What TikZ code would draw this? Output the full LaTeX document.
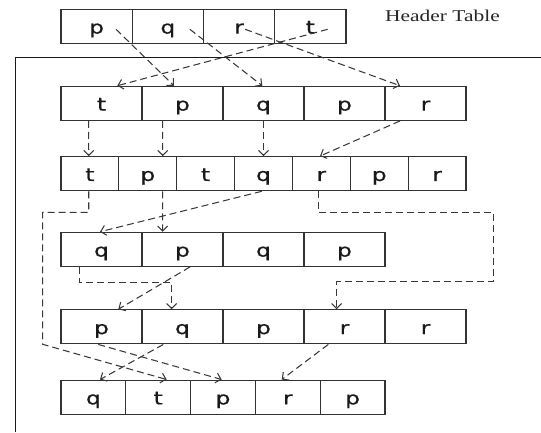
\documentclass[tikz,border=0pt]{standalone}
\usepackage{graphicx}
\usepackage{fontspec}
\setmainfont{Liberation Serif}
\newfontfamily\cellfont[FakeBold=0.5]{DejaVu Sans}
\usetikzlibrary{arrows.meta}
\newcommand{\sx}[1]{\scalebox{1.3}[1]{#1}}
\begin{document}
\begin{tikzpicture}[x=1pt,y=-1pt,
  cell/.style={draw=black!80, line width=1.2pt, minimum height=34pt, inner sep=0pt,
    text height=16.5pt, text depth=2pt, font=\cellfont\fontsize{18}{18}\selectfont, text=black!90},
  link/.style={draw=black!78, line width=1.05pt, dash pattern=on 7pt off 4pt,
    -{Straight Barb[length=5pt,width=10pt]}},
  framestyle/.style={draw=black!90, line width=1.3pt}]
\useasboundingbox (0,0) rectangle (541,432);
% frame
\draw[framestyle] (15.7,432) -- (15.7,57.7) -- (541,57.7);
% header table
\foreach \l [count=\i] in {p,q,r,t}
  \node[cell, minimum width=71.25pt] (h\i) at ({61+71.25*(\i-0.5)},26.3) {\sx{\l}};
\node[anchor=base west, inner sep=0pt, font=\fontsize{16.5}{16.5}\selectfont, text=black!85] (title) at (385,21.5) {\scalebox{1.3}[1]{Header Table}};
% rows
\foreach \l [count=\i] in {t,p,q,p,r}
  \node[cell, minimum width=81pt] (ra\i) at ({61+81*(\i-0.5)},103.35) {\sx{\l}};
\foreach \l [count=\i] in {t,p,t,q,r,p,r}
  \node[cell, minimum width=57.86pt] (rb\i) at ({61+57.86*(\i-0.5)},173.7) {\sx{\l}};
\foreach \l [count=\i] in {q,p,q,p}
  \node[cell, minimum width=81pt] (rc\i) at ({61+81*(\i-0.5)},249.35) {\sx{\l}};
\foreach \l [count=\i] in {p,q,p,r,r}
  \node[cell, minimum width=81pt] (rd\i) at ({61+81*(\i-0.5)},326.85) {\sx{\l}};
\foreach \l [count=\i] in {q,t,p,r,p}
  \node[cell, minimum width=64.8pt] (re\i) at ({61+64.8*(\i-0.5)},397.15) {\sx{\l}};
% header links
\draw[link] ([xshift=19.4pt,yshift=-3pt]h1.center) -- ([xshift=-8.5pt]ra2.north);
\draw[link] ([xshift=22pt,yshift=-3pt]h2.center) -- ([xshift=-1.2pt]ra3.north);
\draw[link] ([xshift=6pt,yshift=-3pt]h3.center) -- ([xshift=-25.5pt]ra5.north);
\draw[link] ([xshift=17.3pt,yshift=-3pt]h4.center) -- ([xshift=15.8pt]ra1.north);
% row 1 -> row 2
\draw[link] ([xshift=-12.8pt]ra1.south) -- ([xshift=-1.2pt]rb1.north);
\draw[link] ([xshift=-19.8pt]ra2.south) -- ([xshift=14.9pt]rb2.north);
\draw[link] (ra3.south) -- (ra3.south |- rb4.north);
\draw[link] ([xshift=-25.5pt]ra5.south) -- ([xshift=-1.4pt]rb5.north);
% row 2 -> row 3 / row 4 / row 5
\draw[link] ([xshift=-1.2pt]rb1.south) -- ++(0,21) -| (42.7,344.3) -- ([xshift=8.5pt]re2.north);
\draw[link] ([xshift=14.9pt]rb2.south) -- ([xshift=-19.8pt]rc2.north);
\draw[link] ([xshift=-1.8pt]rb4.south) -- ([xshift=-1.5pt]rc1.north);
\draw[link] ([xshift=-3pt]rb5.south) -- ++(0,21) -| (493.3,281.7) -| ([xshift=-7.8pt]rd4.north);
% row 3 -> row 4
\draw[link] ([xshift=-22.2pt]rc1.south) -- ++(0,15.3) -| ([xshift=-10.8pt]rd2.north);
\draw[link] ([xshift=7.5pt]rc2.south) -- ([xshift=16.8pt]rd1.north);
% row 4 -> row 5
\draw[link] ([xshift=-3.2pt]rd1.south) -- ([xshift=-1.3pt]re3.north);
\draw[link] ([xshift=-19.2pt]rd2.south) -- ([xshift=6.6pt]re1.north);
\draw[link] ([xshift=-16.2pt]rd4.south) -- ([xshift=-6.1pt]re4.north);
\end{tikzpicture}
\end{document}
